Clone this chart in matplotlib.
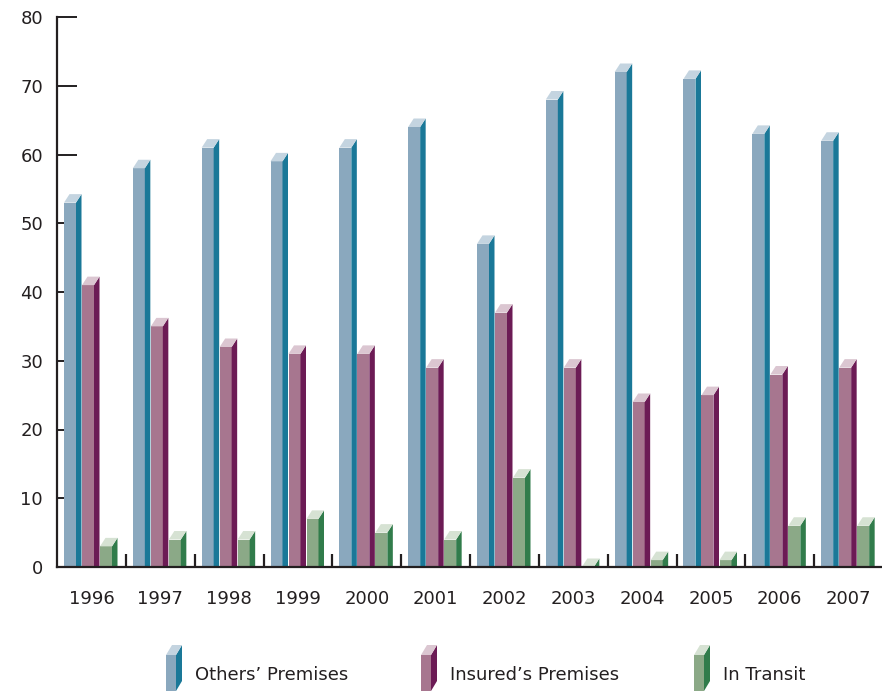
import matplotlib
matplotlib.use("Agg")
import matplotlib.pyplot as plt
from matplotlib.patches import Polygon
import numpy as np

years = ["1996", "1997", "1998", "1999", "2000", "2001", "2002", "2003", "2004", "2005", "2006", "2007"]
others = [53, 58, 61, 59, 61, 64, 47, 68, 72, 71, 63, 62]
insured = [41, 35, 32, 31, 31, 29, 37, 29, 24, 25, 28, 29]
transit = [3, 4, 4, 7, 5, 4, 13, 0, 1, 1, 6, 6]
series_names = ["Others\u2019 Premises", "Insured\u2019s Premises", "In Transit"]
series_vals = [others, insured, transit]
# (front, side, top)
series_cols = [("#8AA8BE", "#1A7898", "#C4D4E0"),
               ("#A7768F", "#6C1B55", "#DBC6D1"),
               ("#8BA987", "#317C4B", "#D6E2D3")]

plt.rcParams['font.family'] = ['DejaVu Sans']
W, H = 882, 691
fig = plt.figure(figsize=(W / 100, H / 100), dpi=100)
left, right, top, bottom = 57, 883, 17, 567
ax = fig.add_axes([left / W, (H - bottom) / H, (right - left) / W, (bottom - top) / H])
ax.set_xlim(0, len(years))
ax.set_ylim(0, 80)

cat_px = (right - left) / len(years)
unit_px = (bottom - top) / 80.0
front_w = 12 / cat_px
dx = 5.5 / cat_px
dy = 8.5 / unit_px
offsets = [7 / cat_px, 25 / cat_px, 43 / cat_px]

x = np.arange(len(years))
for vals, off, (cf, cs, ct) in zip(series_vals, offsets, series_cols):
    xs = x + off
    ax.bar(xs, vals, width=front_w, align='edge', color=cf, linewidth=0, zorder=2)
    for xi, v in zip(xs, vals):
        x1 = xi + front_w
        side = Polygon([(x1, 0), (x1, v), (x1 + dx, v + dy), (x1 + dx, 0)],
                       closed=True, facecolor=cs, edgecolor='none', zorder=2)
        topf = Polygon([(xi, v), (x1, v), (x1 + dx, v + dy), (xi + dx, v + dy)],
                       closed=True, facecolor=ct, edgecolor='none', zorder=2)
        ax.add_patch(side)
        ax.add_patch(topf)

for s in ['top', 'right']:
    ax.spines[s].set_visible(False)
for s in ['left', 'bottom']:
    ax.spines[s].set_color('#231F20')
    ax.spines[s].set_linewidth(1.6)
    ax.spines[s].set_zorder(3)
ax.spines['bottom'].set_clip_on(False)

ax.set_yticks(np.arange(0, 81, 10))
ax.tick_params(axis='y', direction='in', length=14.5, width=1.4, color='#231F20',
               labelsize=13, pad=10, labelcolor='#231F20')
ax.set_xticks(x + 0.5)
ax.set_xticklabels(years)
ax.set_xticks(np.arange(1, len(years)), minor=True)
ax.tick_params(axis='x', which='major', length=0, labelsize=13, pad=16.5, labelcolor='#231F20')
ax.tick_params(axis='x', which='minor', direction='in', length=9.5, width=1.6, color='#231F20')

# legend drawn in pixel coordinates
lg = fig.add_axes([0, 0, 1, 1], zorder=5)
lg.set_xlim(0, W)
lg.set_ylim(H, 0)
lg.axis('off')
leg_x = [166, 421, 694]
text_x = [195, 450, 723]
for lx, tx, name, (cf, cs, ct) in zip(leg_x, text_x, series_names, series_cols):
    fw, sdx, sdy, ytop, ybot = 10, 6, 10, 655, 691
    lg.add_patch(Polygon([(lx, ytop), (lx + fw, ytop), (lx + fw, ybot), (lx, ybot)], facecolor=cf, edgecolor='none'))
    lg.add_patch(Polygon([(lx + fw, ytop), (lx + fw + sdx, ytop - sdy), (lx + fw + sdx, ybot - sdy), (lx + fw, ybot)], facecolor=cs, edgecolor='none'))
    lg.add_patch(Polygon([(lx, ytop), (lx + fw, ytop), (lx + fw + sdx, ytop - sdy), (lx + sdx, ytop - sdy)], facecolor=ct, edgecolor='none'))
    lg.text(tx, 675, name, fontsize=13, va='center', ha='left', color='#231F20')

fig.savefig("out.png", dpi=100)
